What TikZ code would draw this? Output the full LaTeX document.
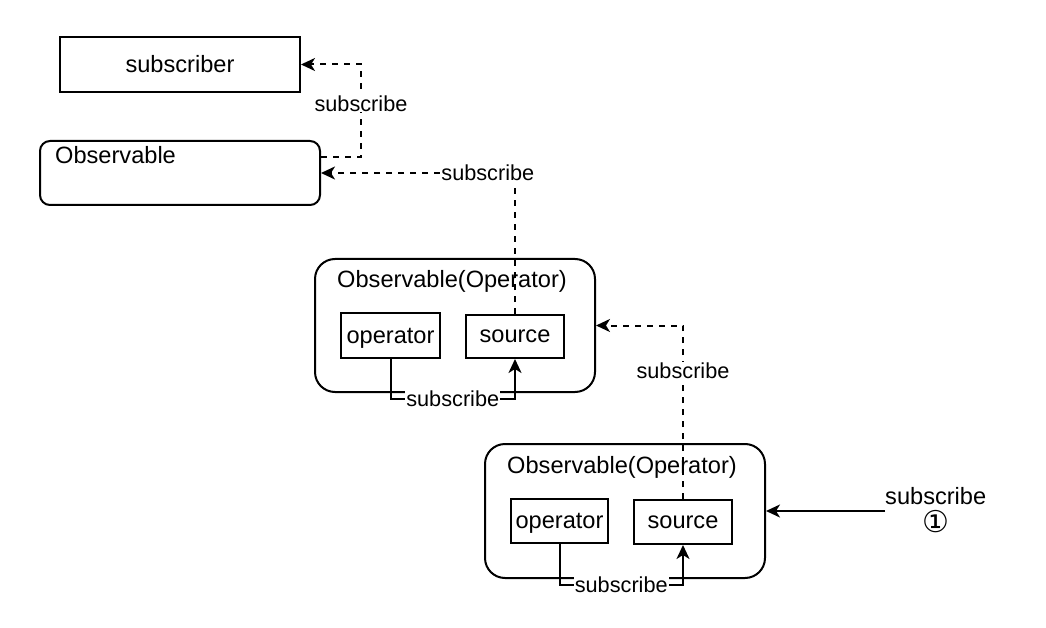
\documentclass[tikz,border=0pt]{standalone}
\usepackage{fontspec}
\setmainfont{Liberation Sans}
\newfontfamily\circfont{DejaVu Sans}
\usetikzlibrary{arrows.meta}

\tikzset{
  boxtext/.style={font=\fontsize{23.6}{28}\selectfont},
  lbl/.style={font=\fontsize{21.7}{26}\selectfont, fill=white, inner sep=1pt},
  plainbox/.style={draw, line width=2pt, inner sep=0pt, boxtext},
  obsbox/.style={plainbox, rounded corners=10pt},
  opbox/.style={plainbox, rounded corners=20pt},
  dashline/.style={line width=2pt, dash pattern=on 6pt off 6pt, -{Stealth[length=14pt,width=13pt,inset=4pt]}},
  solidline/.style={line width=2pt, -{Stealth[length=14pt,width=13pt,inset=4pt]}}
}

\begin{document}
\begin{tikzpicture}[x=1pt, y=-1pt]
\useasboundingbox (0,0) rectangle (1046,628);

\node[plainbox, minimum width=240pt, minimum height=55pt] (sub) at (180,64.5) {subscriber};
\node[obsbox, minimum width=280pt, minimum height=64pt] (obs) at (180,173) {};
\node[boxtext, anchor=west, inner sep=0pt] (obstitle) at (55,155) {Observable};

\node[opbox, minimum width=280pt, minimum height=133pt] (op1box) at (455,325.5) {};
\node[boxtext] (op1title) at (452,281) {Observable(Operator)};
\node[plainbox, minimum width=99pt, minimum height=45pt, text depth=0pt] (op1) at (390.5,335.5) {operator};
\node[plainbox, minimum width=98pt, minimum height=43pt] (src1) at (515,336.5) {source};

\node[opbox, minimum width=280pt, minimum height=134pt] (op2box) at (625,511) {};
\node[boxtext] (op2title) at (622,467) {Observable(Operator)};
\node[plainbox, minimum width=97pt, minimum height=44pt, text depth=0pt] (op2) at (559.5,521) {operator};
\node[plainbox, minimum width=98pt, minimum height=44pt] (src2) at (683,522) {source};

\node[boxtext, anchor=west, inner sep=0pt, align=center] (trig) at (885,510) {subscribe\\{\circfont\fontsize{30}{30}\selectfont ①}};

\draw[solidline] (trig.west |- op2box.east) -- (op2box.east);

\draw[solidline] (op2.south) -- ++(0,41) -| node[lbl, pos=0.25] {subscribe} (src2.south);
\draw[solidline] (op1.south) -- ++(0,40) -| node[lbl, pos=0.25] {subscribe} (src1.south);

\draw[dashline] (src2.north) |- node[lbl, pos=0.37] {subscribe} (op1box.east);
\draw[dashline] (src1.north) |- node[lbl, pos=0.57] {subscribe} (obs.east);
\draw[dashline] ([yshift=16pt]obs.east) -- ++(40,0) |- node[lbl, pos=0.29] {subscribe} (sub.east);

\end{tikzpicture}
\end{document}
